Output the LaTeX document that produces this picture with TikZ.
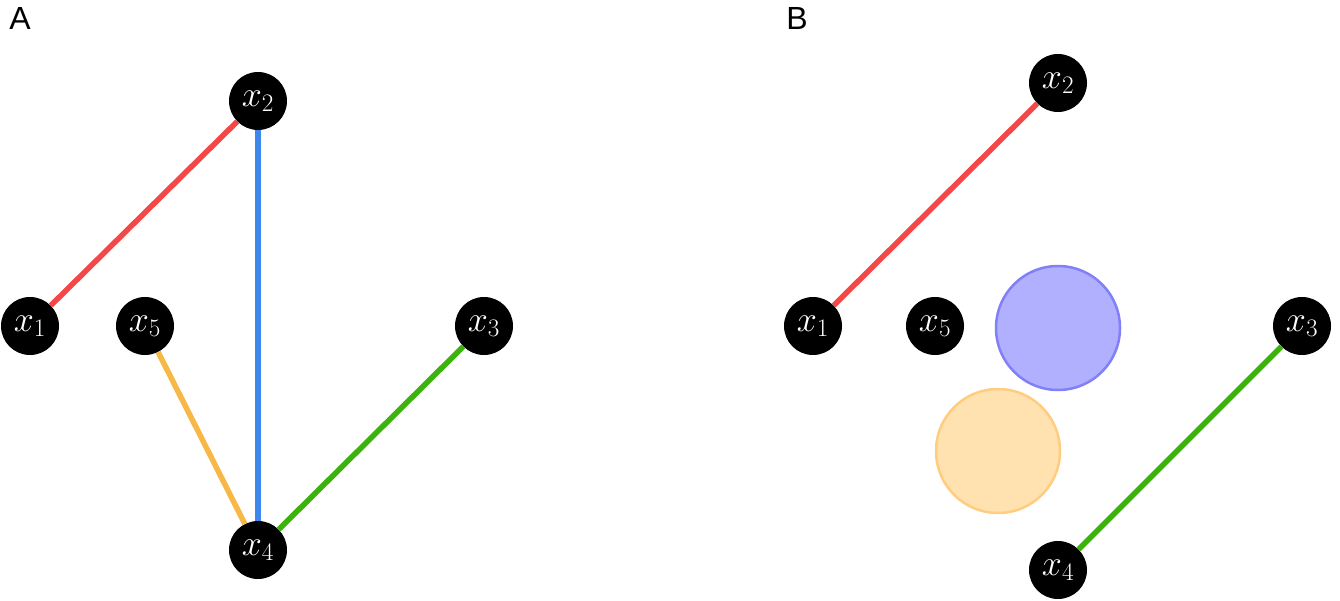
\RequirePackage{fix-cm}
\documentclass[tikz,border=0pt]{standalone}
\usepackage{fontspec}
\newfontfamily\labelfont{Liberation Sans}
\definecolor{ered}{HTML}{F44848}
\definecolor{eblue}{HTML}{3D88EE}
\definecolor{egreen}{HTML}{3BB30C}
\definecolor{eorange}{HTML}{F8B848}
\definecolor{bfill}{HTML}{B0B0FF}
\definecolor{bdraw}{HTML}{8080F8}
\definecolor{ofill}{HTML}{FFE2B0}
\definecolor{odraw}{HTML}{FFCC80}
\tikzset{
  vert/.style={circle,fill=black,minimum size=58pt,inner sep=0pt,text=white,font=\fontsize{36}{38}\selectfont},
  edge/.style={line width=5.5pt},
  panel/.style={font=\labelfont\fontsize{32}{36}\selectfont,anchor=center},
  blob/.style={circle,minimum size=124pt,inner sep=0pt,line width=2.5pt}
}
\begin{document}
\begin{tikzpicture}[x=1pt,y=-1pt]
\useasboundingbox (0,0) rectangle (1340,601);
\node[panel] (lA) at (20,18) {A};
\node[panel] (lB) at (797,18) {B};
% panel A
\node[vert] (a1) at (30,326) {$x_1$};
\node[vert] (a2) at (258,101) {$x_2$};
\node[vert] (a5) at (145,326) {$x_5$};
\node[vert] (a3) at (484,326) {$x_3$};
\node[vert] (a4) at (258,550) {$x_4$};
\draw[edge,ered] (a1) -- (a2);
\draw[edge,eblue] (a2) -- (a4);
\draw[edge,eorange] (a5) -- (a4);
\draw[edge,egreen] (a3) -- (a4);
% panel B
\node[vert] (b1) at (813,326) {$x_1$};
\node[vert] (b5) at (935,326) {$x_5$};
\node[vert] (b2) at (1058,83) {$x_2$};
\node[vert] (b3) at (1302,326) {$x_3$};
\node[vert] (b4) at (1058,570) {$x_4$};
\node[blob,fill=bfill,draw=bdraw] (c1) at (1058,328) {};
\node[blob,fill=ofill,draw=odraw] (c2) at (998,451) {};
\draw[edge,ered] (b1) -- (b2);
\draw[edge,egreen] (b3) -- (b4);
\end{tikzpicture}
\end{document}
